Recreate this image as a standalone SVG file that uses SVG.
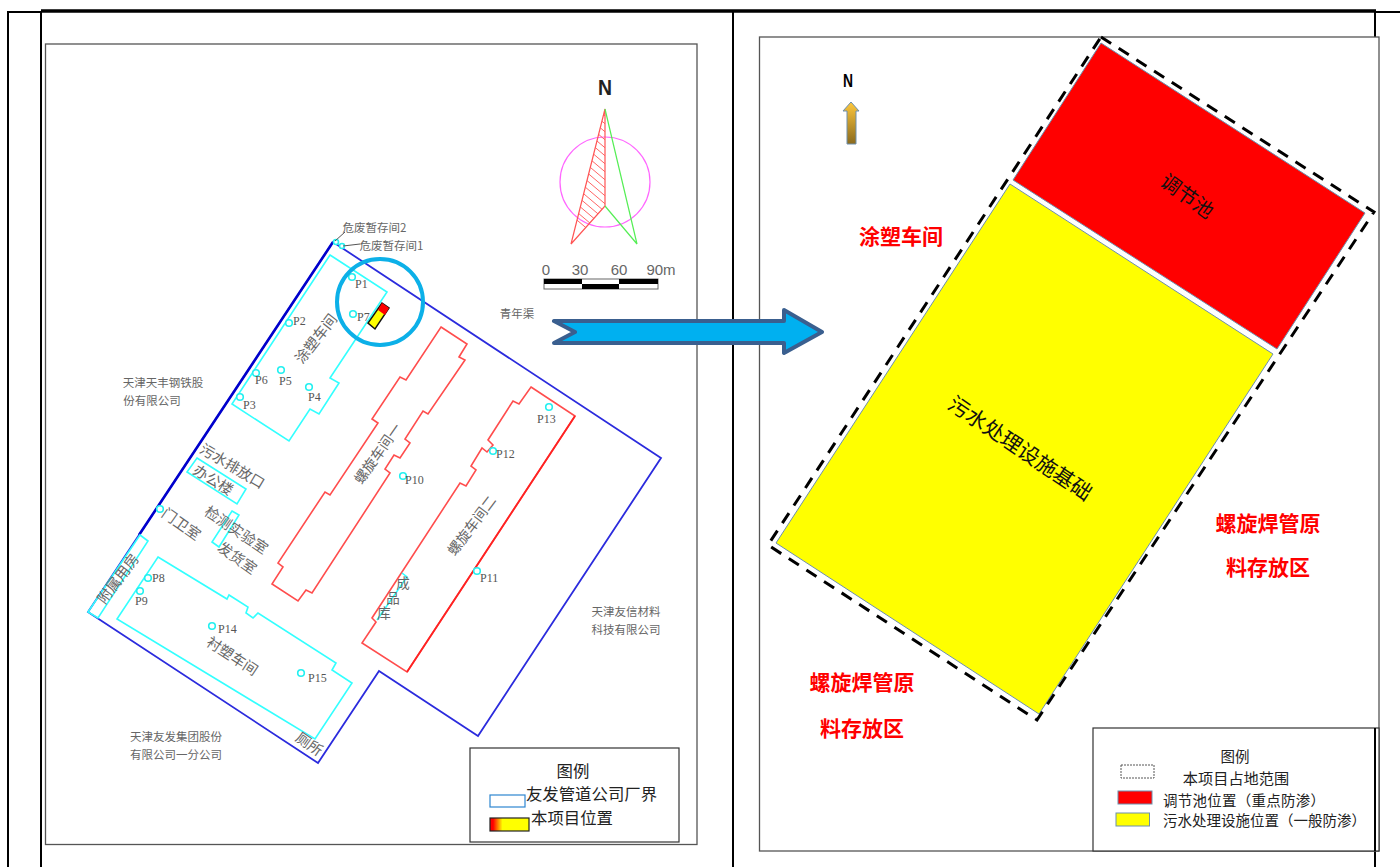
<svg xmlns="http://www.w3.org/2000/svg" width="1400" height="867" viewBox="0 0 1400 867">
<style>
text{font-family:"Noto Sans CJK SC","Liberation Sans",sans-serif;text-anchor:middle;dominant-baseline:central}
.frame{fill:#fff;stroke:#555;stroke-width:1.3}
.tbl{stroke:#000;fill:none;stroke-width:2}
.cy{fill:none;stroke:#33ffff;stroke-width:1.6;stroke-linejoin:miter}
.rd{fill:none;stroke:#ff4d4d;stroke-width:1.6}
.bl{fill:none;stroke:#2b2bdd;stroke-width:1.8}
.pt{fill:#fff;stroke:#22f0f0;stroke-width:1.6}
.lb{font-size:14.5px;fill:#666}
.co{font-size:11.5px;fill:#666}
.p{font-family:"Liberation Serif",serif;font-size:12px;fill:#555;text-anchor:start}
.rt{font-size:21px;font-weight:700;fill:#ff0000}
.lg{font-size:14.5px;fill:#222}
.lgs{font-size:16.4px;fill:#222}
.sc{font-family:"Liberation Sans",sans-serif;font-size:15px;fill:#666}
.sw{stroke:#6d8fad;stroke-width:1}
</style>
<defs>
<linearGradient id="gr" x1="0" y1="0" x2="1" y2="0"><stop offset="0.08" stop-color="#ff0000"/><stop offset="0.32" stop-color="#ffff00"/></linearGradient>
<linearGradient id="ga" x1="0" y1="0" x2="0" y2="1"><stop offset="0" stop-color="#ffc83c"/><stop offset="1" stop-color="#8a6a1e"/></linearGradient>
<clipPath id="hc"><polygon points="605,109 571,244 605,206"/></clipPath>
</defs>
<rect width="1400" height="867" fill="#fff"/>

<g id="table">
<path class="tbl" d="M8 867V12H41M41 867V12M733 867V12M1375 867V12H1400"/>
<path d="M41 11H1376" stroke="#000" stroke-width="3.6" fill="none"/>
</g>
<g id="left-frame"><rect class="frame" x="45.5" y="44" width="651.5" height="800.5"/></g>
<g id="right-frame"><rect class="frame" x="759.5" y="37" width="619.5" height="814"/></g>

<g id="compass">
<text x="605" y="87.500" font-size="22" font-weight="700" fill="#222" style="font-family:'Liberation Sans',sans-serif" textLength="14" lengthAdjust="spacingAndGlyphs">N</text>
<circle cx="605" cy="182" r="45" fill="none" stroke="#ff66ff" stroke-width="1.2"/>
<g clip-path="url(#hc)"><path d="M565 82L610 120M565 90L610 128M565 98L610 136M565 106L610 144M565 114L610 152M565 122L610 160M565 130L610 168M565 138L610 176M565 146L610 184M565 154L610 192M565 162L610 200M565 170L610 208M565 178L610 216M565 186L610 224M565 194L610 232M565 202L610 240M565 210L610 248" stroke="#ff6666" stroke-width="1" fill="none"/></g>
<polygon points="605,109 571,244 605,206" fill="none" stroke="#ff5555" stroke-width="1.2"/>
<polyline points="605,109 637,244 605,206" fill="none" stroke="#55ee55" stroke-width="1.2"/>
</g>
<g id="scale">
<text class="sc" x="546" y="269.500">0</text><text class="sc" x="580" y="269.500">30</text><text class="sc" x="619" y="269.500">60</text><text class="sc" x="661" y="269.500">90m</text>
<rect x="544" y="279" width="114" height="10" fill="#fff" stroke="#666" stroke-width="1"/>
<rect x="544" y="279" width="38" height="5" fill="#000"/><rect x="619" y="279" width="39" height="5" fill="#000"/><rect x="582" y="284" width="37" height="5" fill="#000"/>
</g>

<g id="site-boundary">
<polygon class="bl" points="333,242 661,458 478,736 379,671 318,763 88,612"/>
<path d="M333 242L139 535" stroke="#0000cc" stroke-width="2.6" fill="none"/>
</g>

<g id="coating-workshop"><polygon class="cy" points="330,255 387,292 330,378 339,383 319,414 310,409 289,441 232,404"/><text class="lb" transform="translate(315,338) rotate(-52)">涂塑车间</text></g>
<g id="office"><polygon class="cy" points="197,458 246,489 237,504 187,472"/><text class="lb" transform="translate(214,479) rotate(32)">办公楼</text></g>
<g id="outfall"><text class="lb" transform="translate(233,465) rotate(31)">污水排放口</text></g>
<g id="lab"><polygon class="cy" points="232,511 239,515 219,547 212,542"/><text class="lb" transform="translate(237,529) rotate(34)">检测实验室</text></g>
<g id="shipping"><text class="lb" transform="translate(238,557) rotate(35)">发货室</text></g>
<g id="gate"><text class="lb" transform="translate(182,523) rotate(35)">门卫室</text></g>
<g id="annex"><polygon class="cy" points="140,535 148,541 98,618 88,612"/><text class="lb" transform="translate(117,578) rotate(-53)">附属用房</text></g>
<g id="lining-workshop"><polygon class="cy" points="158,557 227,599 229,595 248,607 246,613 253,618 258,613 336,663 332,670 352,683 315,739 117,619"/><text class="lb" transform="translate(233,655) rotate(33)">衬塑车间</text></g>
<g id="toilet"><text class="lb" transform="translate(310,743) rotate(35)">厕所</text></g>
<g id="spiral-1"><polygon class="rd" points="441,327 467,344 459,357 465,360 428,414 423,411 405,439 410,443 400,458 394,455 385,469 390,473 312,593 306,590 298,601 272,584 283,567 278,563 325,492 330,495 378,423 372,419 400,377 406,380"/><text class="lb" style="font-size:14px" transform="translate(377,453) rotate(-55)">螺旋车间一</text></g>
<g id="spiral-2"><polygon class="rd" points="531,387 575,416 407,672 362,643 376,622 372,618 460,483 466,486 476,470 471,466 482,448 487,452 493,445 488,440 513,401 519,404"/><path d="M575 416L407 672" stroke="#ff2222" stroke-width="1.8"/><text class="lb" style="font-size:14px" transform="translate(471,525) rotate(-53)">螺旋车间二</text></g>
<g id="warehouse"><polyline class="cy" points="402,573 407,577 377,620"/><text class="lb" style="font-size:13.500px" x="403" y="582">成</text><text class="lb" style="font-size:13.500px" x="393" y="597">品</text><text class="lb" style="font-size:13.500px" x="384" y="612">库</text></g>
<g id="hazard-2"><circle class="pt" cx="336" cy="242" r="2.500"/><text class="co" x="374.500" y="227">危废暂存间2</text></g>
<g id="hazard-1"><circle class="pt" cx="342" cy="246" r="2.500"/><text class="co" x="391.500" y="245">危废暂存间1</text></g>

<g id="points">
<circle class="pt" cx="352" cy="277" r="3.300"/><text class="p" x="355" y="284">P1</text>
<circle class="pt" cx="353" cy="314" r="3.300"/><text class="p" x="357" y="317">P7</text>
<circle class="pt" cx="289" cy="323" r="3.300"/><text class="p" x="293" y="321">P2</text>
<circle class="pt" cx="256" cy="373" r="3.300"/><text class="p" x="255" y="380">P6</text>
<circle class="pt" cx="281" cy="370" r="3.300"/><text class="p" x="279" y="381">P5</text>
<circle class="pt" cx="309" cy="387" r="3.300"/><text class="p" x="308" y="397">P4</text>
<circle class="pt" cx="240" cy="397" r="3.300"/><text class="p" x="243" y="405">P3</text>
<circle class="pt" cx="160" cy="509" r="3.300"/>
<circle class="pt" cx="148" cy="578" r="3.300"/><text class="p" x="152" y="578">P8</text>
<circle class="pt" cx="140" cy="591" r="3.300"/><text class="p" x="135" y="601">P9</text>
<circle class="pt" cx="212" cy="626" r="3.300"/><text class="p" x="218" y="629">P14</text>
<circle class="pt" cx="301" cy="673" r="3.300"/><text class="p" x="308" y="678">P15</text>
<circle class="pt" cx="403" cy="476" r="3.300"/><text class="p" x="405" y="480">P10</text>
<circle class="pt" cx="477" cy="571" r="3.300"/><text class="p" x="480" y="578">P11</text>
<circle class="pt" cx="493" cy="451" r="3.300"/><text class="p" x="496" y="454">P12</text>
<circle class="pt" cx="549" cy="407" r="3.300"/><text class="p" x="537" y="419">P13</text>
</g>

<g id="companies">
<text class="co" x="163" y="382">天津天丰钢铁股</text><text class="co" x="152" y="400">份有限公司</text>
<text class="co" x="176" y="736">天津友发集团股份</text><text class="co" x="176" y="754">有限公司一分公司</text>
<text class="co" x="626" y="611">天津友信材料</text><text class="co" x="626" y="629">科技有限公司</text>
<text class="co" x="517" y="313">青年渠</text>
</g>

<g id="project-marker">
<polygon points="382,303 389,308 375,329 368,323" fill="#ffff00" stroke="#111" stroke-width="1.500"/>
<polygon points="382,303 389,308 385,315 378,310" fill="#ff0000"/>
<circle cx="380" cy="302" r="43" fill="none" stroke="#0cb0e8" stroke-width="4"/>
</g>

<g id="left-legend">
<rect x="470" y="748" width="209" height="94" fill="#fff" stroke="#333" stroke-width="1.200"/>
<text class="lgs" x="573" y="769.500">图例</text>
<rect x="490" y="795" width="35" height="12" fill="#fff" stroke="#2e86d0" stroke-width="1.200"/>
<text class="lgs" x="591.500" y="793">友发管道公司厂界</text>
<rect x="490" y="818" width="39" height="13" fill="url(#gr)" stroke="#222" stroke-width="1.200"/>
<text class="lgs" x="572" y="816.500">本项目位置</text>
</g>

<g id="north-arrow">
<text x="848" y="81" font-size="18" font-weight="700" fill="#000" style="font-family:'Liberation Sans',sans-serif" textLength="10" lengthAdjust="spacingAndGlyphs">N</text>
<polygon points="851,102 859,111 856,111 856,144 847,144 847,111 843,111" fill="url(#ga)" stroke="#6d8fad" stroke-width="1"/>
</g>
<g id="basin">
<polygon points="1101,43 1365,213 1277,349 1013,180" fill="#ff0000" stroke="#6d8fad" stroke-width="1"/>
<text transform="translate(1188,195) rotate(36)" font-size="20" fill="#111">调节池</text>
</g>
<g id="treatment">
<polygon points="1010,184 1273,354 1039,714 776,543" fill="#ffff00" stroke="#6d8fad" stroke-width="1"/>
<text transform="translate(1021,447) rotate(34)" font-size="21" fill="#111">污水处理设施基础</text>
</g>
<g id="project-extent"><polygon points="1101,37 1374,212 1037,720 768,545" fill="none" stroke="#000" stroke-width="3" stroke-dasharray="12 9"/></g>

<g id="area-labels">
<text class="rt" x="901" y="234.500">涂塑车间</text>
<text class="rt" x="862" y="680.500">螺旋焊管原</text><text class="rt" x="862" y="726.500">料存放区</text>
<text class="rt" x="1268" y="521.500">螺旋焊管原</text><text class="rt" x="1268" y="565.500">料存放区</text>
</g>

<g id="right-legend">
<rect x="1093" y="728" width="286" height="123" fill="#fff" stroke="#333" stroke-width="1.200"/>
<path d="M1375 728V851" stroke="#000" stroke-width="2"/>
<text class="lg" x="1235" y="755">图例</text>
<rect x="1121" y="765" width="33" height="13" fill="#fff" stroke="#555" stroke-width="1" stroke-dasharray="2 1"/>
<text class="lg" style="font-size:15.2px" x="1236" y="777">本项目占地范围</text>
<rect class="sw" x="1118" y="791" width="34" height="13" fill="#ff0000"/>
<text class="lg" style="text-anchor:start" x="1163" y="799" textLength="162">调节池位置（重点防渗）</text>
<rect class="sw" x="1116" y="813" width="33.500" height="13" fill="#ffff00"/>
<text class="lg" style="text-anchor:start" x="1163" y="819" textLength="203">污水处理设施位置（一般防渗）</text>
</g>

<g id="connectors">
<path d="M335 241L345 232M343 246L360 244" stroke="#555" stroke-width="1" fill="none"/>
<polygon points="554,321 784,321 784,310 822,332 784,353 784,343 554,343 575,332" fill="#00b0f0" stroke="#3a5f8f" stroke-width="4" stroke-linejoin="round"/>
</g>
</svg>
